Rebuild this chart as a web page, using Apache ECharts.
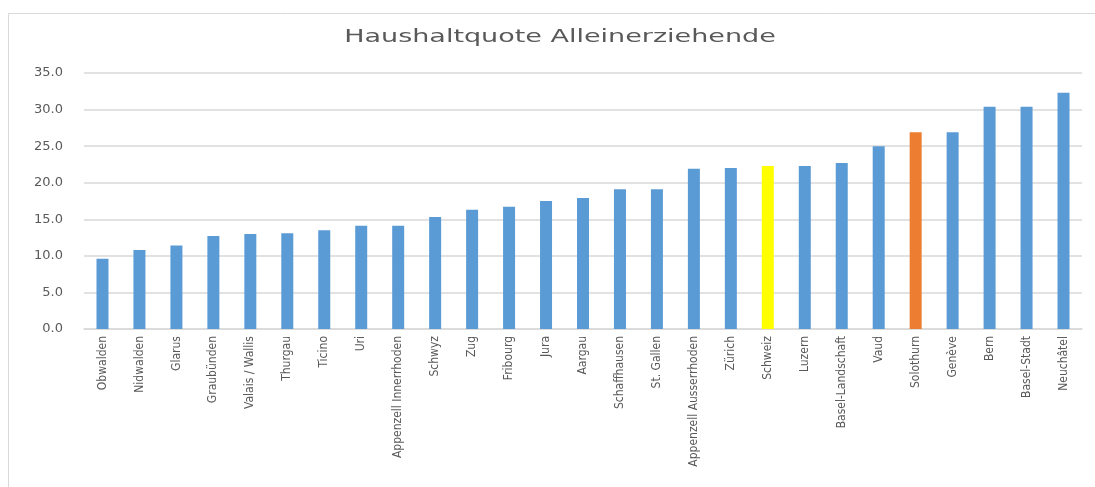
<!DOCTYPE html>
<html>
<head>
<meta charset="utf-8">
<script src="https://cdn.jsdelivr.net/npm/echarts@6/dist/echarts.min.js"></script>
<style>
  html, body { margin: 0; padding: 0; background: #fff; }
  #chart { width: 1095px; height: 487px; }
</style>
</head>
<body>
<div id="chart"></div>
<script>
const categories = ['Obwalden', 'Nidwalden', 'Glarus', 'Graubünden', 'Valais / Wallis', 'Thurgau', 'Ticino', 'Uri',
  'Appenzell Innerrhoden', 'Schwyz', 'Zug', 'Fribourg', 'Jura', 'Aargau', 'Schaffhausen', 'St. Gallen',
  'Appenzell Ausserrhoden', 'Zürich', 'Schweiz', 'Luzern', 'Basel-Landschaft', 'Vaud', 'Solothurn',
  'Genève', 'Bern', 'Basel-Stadt', 'Neuchâtel']
const values = [9.6, 10.8, 11.4, 12.7, 13.0, 13.1, 13.5, 14.1, 14.1, 15.3, 16.3, 16.7, 17.5, 17.9, 19.1, 19.1,
  21.9, 22.0, 22.3, 22.3, 22.7, 25.0, 26.9, 26.9, 30.4, 30.4, 32.3]
const highlight = { 'Schweiz': '#ffff00', 'Solothurn': '#ed7d31' }
const titleText = 'Haushaltquote Alleinerziehende'

const chart = echarts.init(document.getElementById('chart'))

chart.setOption({
  animation: false,
  graphic: [
    {
      type: 'rect',
      shape: { x: 8.5, y: 13.5, width: 1200, height: 600 },
      style: { fill: 'none', stroke: '#d9d9d9', lineWidth: 1 },
      silent: true,
    },
    {
      // Titel, im Original breit gezogen
      type: 'text',
      x: 560,
      y: 37,
      scaleX: 1.5,
      style: {
        text: titleText,
        fontFamily: 'DejaVu Sans',
        fontSize: 18,
        fill: '#595959',
        textAlign: 'center',
        textVerticalAlign: 'middle',
      },
    },
  ],
  grid: { left: 84, right: 13, top: 73, bottom: 158 },
  xAxis: {
    type: 'category',
    data: categories,
    axisLine: { lineStyle: { color: '#d9d9d9', width: 1.5 } },
    axisTick: { show: false },
    axisLabel: {
      rotate: 90,
      interval: 0,
      margin: 7,
      fontFamily: 'Liberation Sans Narrow, DejaVu Sans Condensed, sans-serif',
      fontSize: 12,
      color: '#595959',
    },
  },
  yAxis: {
    type: 'value',
    min: 0,
    max: 35,
    interval: 5,
    axisLine: { show: false },
    axisTick: { show: false },
    splitLine: { lineStyle: { color: '#d9d9d9', width: 1.5 } },
    axisLabel: {
      margin: 21,
      fontFamily: 'DejaVu Sans',
      fontSize: 13,
      color: '#595959',
      formatter: v => v.toFixed(1),
    },
  },
  series: [{
    type: 'bar',
    barWidth: 12,
    data: values.map((v, i) => ({
      value: v,
      itemStyle: { color: highlight[categories[i]] || '#5b9bd5' },
    })),
  }],
})
</script>
</body>
</html>
